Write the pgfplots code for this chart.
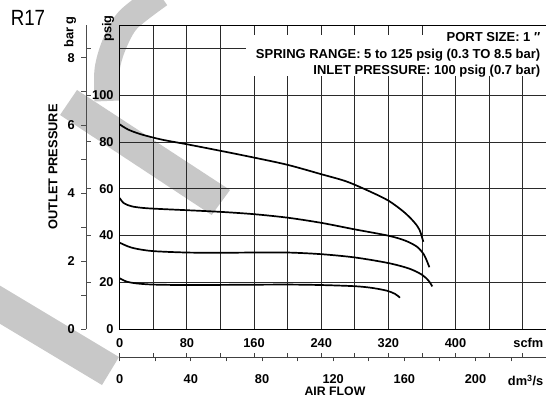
\documentclass[border=0pt]{standalone}
\usepackage{fontspec}
\setmainfont{Liberation Sans}
\usepackage{pgfplots}
\pgfplotsset{compat=1.18}
\definecolor{wm}{HTML}{C8C8C8}
\definecolor{gridc}{HTML}{2A2A2A}
\newcommand{\tfont}{\fontsize{12.8}{12.8}\selectfont\bfseries}
\newcommand{\B}[1]{\textbf{#1}}
\begin{document}
\begin{tikzpicture}[x=1pt,y=1pt]
\useasboundingbox (0,0) rectangle (546,397);
% background watermark
\fill[wm] (60,282) -- (77,307) -- (230,207) -- (211.7,182) -- cycle;
\draw[wm, line width=25pt] plot[smooth] coordinates {(160,402) (128,377) (114,352) (107,327) (107,296)};
\fill[wm] (-20,123.4) -- (119,40) -- (102,12) -- (-20,85.2) -- cycle;

% main axis (scfm / psig)
\begin{axis}[
  at={(119.7pt,68pt)}, anchor=south west,
  scale only axis, width=430pt, height=304pt,
  xmin=0, xmax=512.15, ymin=0, ymax=130,
  /pgf/number format/assume math mode=true,
  xtick={0,40,...,480},
  xticklabels={\B{0},,\B{80},,\B{160},,\B{240},,\B{320},,\B{400},,},
  ytick={0,20,...,120},
  yticklabels={\B{0},\B{20},\B{40},\B{60},\B{80},\B{100},},
  grid=major,
  major grid style={draw=gridc, line width=0.8pt},
  axis line style={black, line width=0.9pt},
  major tick length=0pt,
  tick label style={font=\tfont},
  xticklabel style={anchor=base, inner sep=0pt, yshift=-18pt},
  yticklabel style={anchor=east, inner sep=0pt, xshift=-6pt},
]
\addplot[black, line width=1.7pt, smooth] coordinates {
(0,87.5) (10,85.3) (25,83.3) (50,81.0) (80,79.0) (120,76.2) (160,73.3) (200,70.2) (240,66.2) (270,63.1) (298,58.8) (320,54.9) (338,50.2) (350,46.0) (357,42.5) (361.6,37.3)};
\addplot[black, line width=1.7pt, smooth] coordinates {
(0,56.0) (5,53.8) (15,52.4) (34,51.6) (80,50.8) (120,50.1) (160,49.1) (200,47.6) (240,45.4) (280,42.6) (320,39.9) (340,37.8) (354,35.2) (362,32.0) (366,29.0) (368.8,26.4)};
\addplot[black, line width=1.7pt, smooth] coordinates {
(0,36.9) (10,35.3) (20,34.3) (40,33.3) (80,32.7) (120,32.6) (160,32.7) (200,32.7) (240,32.0) (280,30.6) (320,28.2) (345,25.8) (360,23.2) (368,20.6) (372.3,18.2)};
\addplot[black, line width=1.7pt, smooth] coordinates {
(0,21.7) (8,20.3) (20,19.5) (40,19.0) (80,18.8) (140,18.9) (200,19.0) (240,18.8) (280,18.3) (300,17.6) (318,16.4) (328,15.0) (333.8,13.4)};
\end{axis}

% bar g axis
\begin{axis}[
  at={(86pt,68pt)}, anchor=south west,
  scale only axis, width=10pt, height=304pt,
  xmin=0, xmax=1, ymin=0, ymax=8.9632,
  hide x axis, axis y line*=left,
  axis line style={black!70, line width=0.9pt},
  /pgf/number format/assume math mode=true,
  ytick={0,2,4,6,8}, minor ytick={1,3,5,7},
  yticklabels={\B{0},\B{2},\B{4},\B{6},\B{8}},
  tick align=outside, major tick length=5pt, minor tick length=5pt,
  every tick/.style={black!70, line width=0.9pt},
  tick label style={font=\tfont},
  yticklabel style={anchor=east, inner sep=0pt, xshift=-6pt},
]
\end{axis}
% psig ticks on the bar axis line
\begin{axis}[
  at={(86pt,68pt)}, anchor=south west,
  scale only axis, width=10pt, height=304pt,
  xmin=0, xmax=1, ymin=0, ymax=130,
  hide x axis, axis y line*=left,
  axis line style={draw=none},
  ytick={20,40,...,120}, yticklabels={},
  tick align=inside, major tick length=5pt,
  every tick/.style={black!70, line width=0.9pt},
]
\end{axis}

% dm3/s axis
\begin{axis}[
  at={(119.7pt,39.7pt)}, anchor=south west,
  scale only axis, width=430pt, height=10pt,
  xmin=0, xmax=241.71, ymin=0, ymax=1,
  hide y axis, axis x line*=bottom,
  axis line style={black!75, line width=0.9pt},
  /pgf/number format/assume math mode=true,
  xtick={0,40,...,200}, minor xtick={20,60,...,220},
  xticklabels={\B{0},\B{40},\B{80},\B{120},\B{160},\B{200}},
  tick align=outside, major tick length=4pt, minor tick length=4pt,
  every tick/.style={black!75, line width=0.9pt},
  tick label style={font=\tfont},
  xticklabel style={anchor=base, inner sep=0pt, yshift=-22.5pt},
]
\end{axis}
% scfm ticks on the dm3/s axis line
\begin{axis}[
  at={(119.7pt,39.7pt)}, anchor=south west,
  scale only axis, width=430pt, height=10pt,
  xmin=0, xmax=512.15, ymin=0, ymax=1,
  hide y axis, axis x line*=bottom,
  axis line style={draw=none},
  xtick={0,40,...,480}, xticklabels={},
  tick align=inside, major tick length=4pt,
  every tick/.style={black!75, line width=0.9pt},
]
\end{axis}

% texts
\node[font=\fontsize{22}{22}\selectfont, xscale=0.85] at (28,379) {R17};
\node[rotate=90, font=\tfont] at (53,230) {OUTLET PRESSURE};
\node[rotate=90, font=\tfont] at (70,365) {bar g};
\node[rotate=90, font=\tfont] at (108,368.5) {psig};
\node[font=\tfont, anchor=base east, inner sep=0pt] at (543.5,50) {scfm};
\node[font=\tfont, anchor=base east, inner sep=0pt] at (543.5,11.5) {dm\textsuperscript{3}/s};
\node[font=\fontsize{12.3}{12.3}\selectfont\bfseries, anchor=base, inner sep=0pt] at (335,1.6) {AIR FLOW};

\fill[white] (246,321) rectangle (546,362);
\fill[white] (445,362) rectangle (546,370.5);
\node[font=\fontsize{13}{13}\selectfont\bfseries, anchor=base east, inner sep=0pt] at (540.5,355.3) {PORT SIZE: 1 ″};
\node[font=\fontsize{13}{13}\selectfont\bfseries, anchor=base east, inner sep=0pt] at (540.5,338.3) {SPRING RANGE: 5 to 125 psig (0.3 TO 8.5 bar)};
\node[font=\fontsize{13}{13}\selectfont\bfseries, anchor=base east, inner sep=0pt] at (540.5,322.7) {INLET PRESSURE: 100 psig (0.7 bar)};
\end{tikzpicture}
\end{document}
